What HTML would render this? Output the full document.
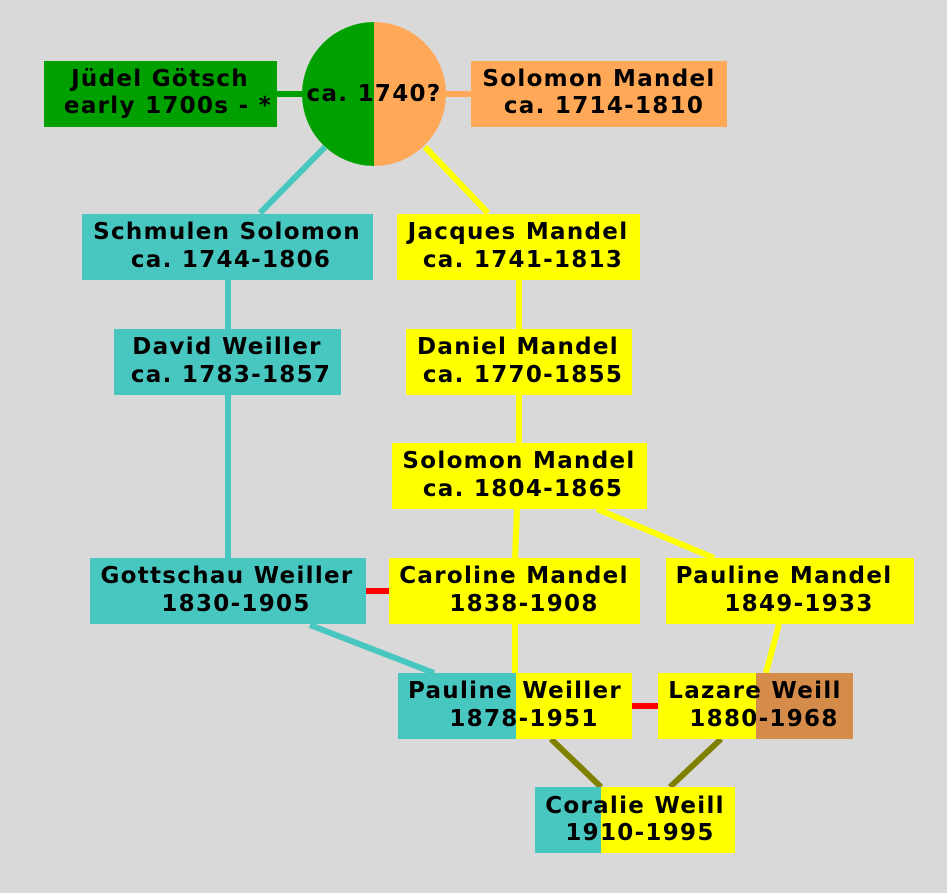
<!DOCTYPE html>
<html><head><meta charset="utf-8"><style>
html,body{margin:0;padding:0;background:#d9d9d9;}
svg{display:block;}
text{font-family:"DejaVu Sans","Liberation Sans",sans-serif;font-weight:bold;font-size:23px;letter-spacing:1.3px;fill:#000;}
</style></head><body>
<svg width="947" height="893" viewBox="0 0 947 893" xmlns="http://www.w3.org/2000/svg">
<rect width="947" height="893" fill="#d9d9d9"/>
<g stroke-width="6" fill="none">
<line x1="277" y1="94" x2="305" y2="94" stroke="#00a000"/>
<line x1="443" y1="94" x2="471" y2="94" stroke="#ffa858"/>
<line x1="325" y1="147" x2="260" y2="213" stroke="#48c6c0"/>
<line x1="425" y1="147" x2="488" y2="213" stroke="#ffff00"/>
<line x1="228" y1="280" x2="228" y2="329" stroke="#48c6c0"/>
<line x1="228" y1="395" x2="228" y2="558" stroke="#48c6c0"/>
<line x1="519" y1="280" x2="519" y2="329" stroke="#ffff00"/>
<line x1="519" y1="395" x2="519" y2="443" stroke="#ffff00"/>
<line x1="517" y1="509" x2="515" y2="558" stroke="#ffff00"/>
<line x1="597" y1="509" x2="714" y2="558" stroke="#ffff00"/>
<line x1="366" y1="591" x2="389" y2="591" stroke="#ff0000"/>
<line x1="310" y1="625" x2="434" y2="673" stroke="#48c6c0"/>
<line x1="515" y1="624" x2="515" y2="673" stroke="#ffff00"/>
<line x1="779" y1="624" x2="766" y2="673" stroke="#ffff00"/>
<line x1="632" y1="706" x2="658" y2="706" stroke="#ff0000"/>
<line x1="551" y1="739" x2="601" y2="787" stroke="#808000"/>
<line x1="721" y1="739" x2="670" y2="787" stroke="#808000"/>
</g>
<path d="M374,22 A72,72 0 0 0 374,166 Z" fill="#00a000"/>
<path d="M374,22 A72,72 0 0 1 374,166 Z" fill="#ffa858"/>
<text x="374" y="101" text-anchor="middle">ca. 1740?</text>

<rect x="44" y="61" width="233" height="66" fill="#00a000"/>
<text x="160" y="86" text-anchor="middle">Jüdel Götsch</text>
<text x="168" y="113" text-anchor="middle">early 1700s - *</text>

<rect x="471" y="61" width="256" height="66" fill="#ffa858"/>
<text x="599" y="86" text-anchor="middle">Solomon Mandel</text>
<text x="604" y="113" text-anchor="middle">ca. 1714-1810</text>

<rect x="82" y="214" width="291" height="66" fill="#48c6c0"/>
<text x="227" y="239" text-anchor="middle">Schmulen Solomon</text>
<text x="231" y="267" text-anchor="middle">ca. 1744-1806</text>

<rect x="397" y="214" width="243" height="66" fill="#ffff00"/>
<text x="518" y="239" text-anchor="middle">Jacques Mandel</text>
<text x="523" y="267" text-anchor="middle">ca. 1741-1813</text>

<rect x="114" y="329" width="227" height="66" fill="#48c6c0"/>
<text x="227" y="354" text-anchor="middle">David Weiller</text>
<text x="231" y="382" text-anchor="middle">ca. 1783-1857</text>

<rect x="406" y="329" width="226" height="66" fill="#ffff00"/>
<text x="518" y="354" text-anchor="middle">Daniel Mandel</text>
<text x="523" y="382" text-anchor="middle">ca. 1770-1855</text>

<rect x="392" y="443" width="255" height="66" fill="#ffff00"/>
<text x="519" y="468" text-anchor="middle">Solomon Mandel</text>
<text x="523" y="496" text-anchor="middle">ca. 1804-1865</text>

<rect x="90" y="558" width="276" height="66" fill="#48c6c0"/>
<text x="227" y="583" text-anchor="middle">Gottschau Weiller</text>
<text x="236" y="611" text-anchor="middle">1830-1905</text>

<rect x="389" y="558" width="251" height="66" fill="#ffff00"/>
<text x="514" y="583" text-anchor="middle">Caroline Mandel</text>
<text x="524" y="611" text-anchor="middle">1838-1908</text>

<rect x="666" y="558" width="248" height="66" fill="#ffff00"/>
<text x="784" y="583" text-anchor="middle">Pauline Mandel</text>
<text x="799" y="611" text-anchor="middle">1849-1933</text>

<rect x="398" y="673" width="118" height="66" fill="#48c6c0"/>
<rect x="516" y="673" width="116" height="66" fill="#ffff00"/>
<text x="515" y="698" text-anchor="middle">Pauline Weiller</text>
<text x="524" y="726" text-anchor="middle">1878-1951</text>

<rect x="658" y="673" width="98" height="66" fill="#ffff00"/>
<rect x="756" y="673" width="97" height="66" fill="#d58c4a"/>
<text x="755" y="698" text-anchor="middle">Lazare Weill</text>
<text x="764" y="726" text-anchor="middle">1880-1968</text>

<rect x="535" y="787" width="66" height="66" fill="#48c6c0"/>
<rect x="601" y="787" width="134" height="66" fill="#ffff00"/>
<text x="635" y="813" text-anchor="middle">Coralie Weill</text>
<text x="640" y="840" text-anchor="middle">1910-1995</text>
</svg>
</body></html>
